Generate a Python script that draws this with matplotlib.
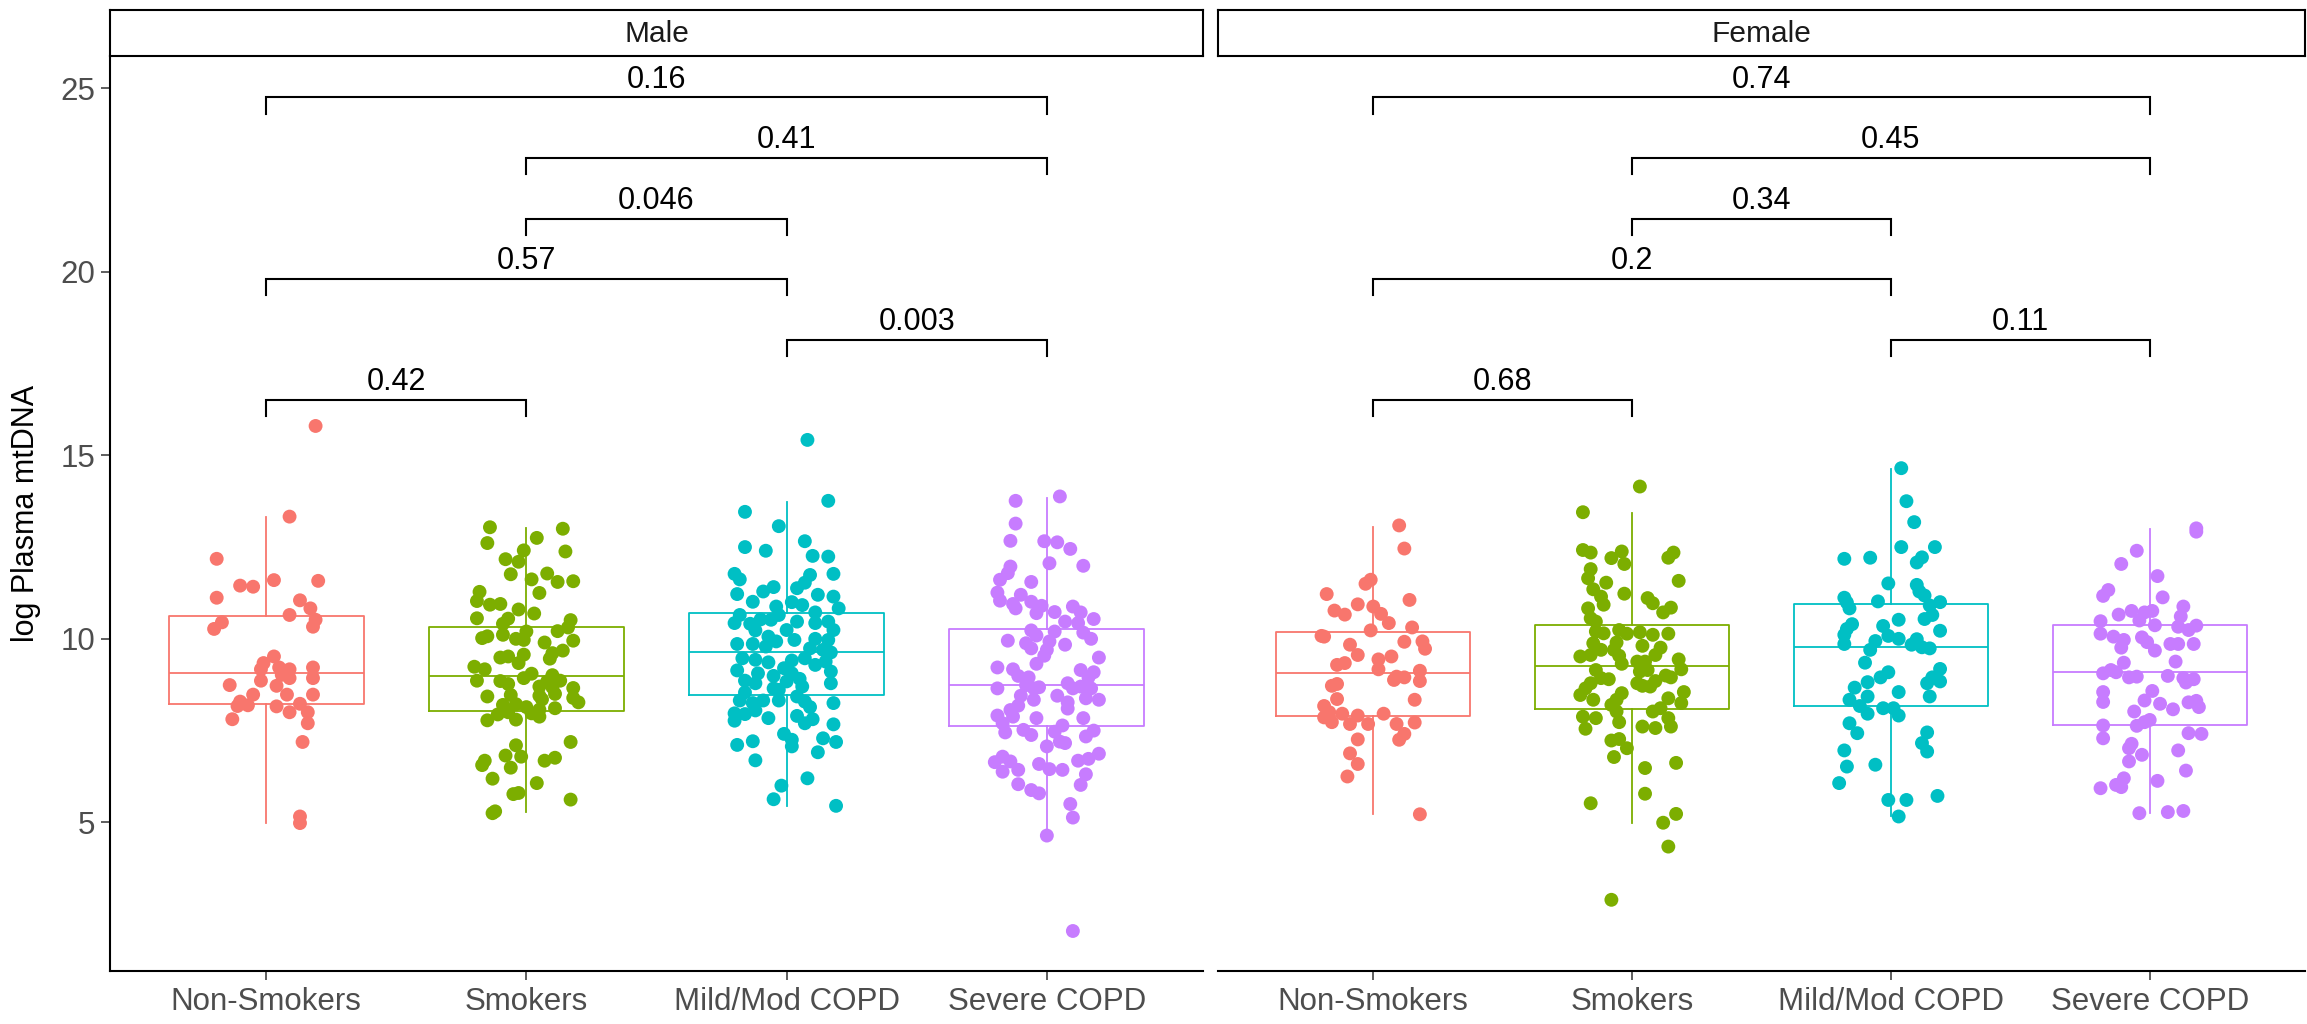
import matplotlib
matplotlib.use("Agg")
import matplotlib.pyplot as plt

plt.rcParams['font.family'] = ['Liberation Sans', 'DejaVu Sans']

# categories / facets
groups = ["Non-Smokers", "Smokers", "Mild/Mod COPD", "Severe COPD"]
sexes = ["Male", "Female"]
colors = ["#F8766D", "#7CAE00", "#00BFC4", "#C77CFF"]

# ---- Male: jittered points (offset from category, log plasma mtDNA) ----
m_ns_jit = [0.19, 0.09, -0.19, -0.10, -0.05, 0.03, 0.20, -0.19, 0.13, 0.17,
            0.09, 0.19, 0.18, -0.17, -0.20, 0.03, -0.01, -0.02, 0.05, 0.09,
            0.18, 0.06, 0.09, -0.02, 0.18, -0.14, 0.04, -0.05, 0.08, 0.18,
            -0.10, -0.07, -0.11, 0.04, 0.13, 0.09, 0.16, -0.13, 0.16, 0.14,
            0.13, 0.13]
m_ns_val = [15.80, 13.33, 12.18, 11.45, 11.42, 11.60, 11.58, 11.12, 11.05, 10.83,
            10.65, 10.52, 10.33, 10.45, 10.27, 9.52, 9.34, 9.17, 9.22, 9.17,
            9.22, 9.02, 8.93, 8.86, 8.93, 8.74, 8.72, 8.48, 8.48, 8.48,
            8.29, 8.19, 8.17, 8.16, 8.23, 8.00, 8.00, 7.81, 7.70, 7.19,
            5.16, 4.98]

m_s_jit = [-0.14, 0.14, -0.15, 0.04, -0.01, 0.15, -0.08, -0.03, -0.06, 0.02,
           0.08, 0.12, 0.18, -0.18, 0.05, -0.19, -0.14, -0.10, -0.03, 0.03,
           -0.19, -0.07, -0.09, 0.17, 0.16, 0.12, 0.00, -0.09, -0.15, -0.17,
           -0.04, -0.01, 0.18, 0.07, 0.14, 0.10, -0.10, -0.07, -0.01, 0.09,
           -0.03, -0.20, -0.16, 0.02, -0.01, 0.10, -0.19, -0.10, -0.07, 0.08,
           0.13, 0.05, 0.10, 0.18, -0.15, -0.06, 0.05, 0.11, 0.18, 0.20,
           0.06, -0.04, -0.09, 0.11, 0.00, 0.05, -0.11, -0.07, 0.02, 0.05,
           -0.15, -0.04, 0.17, -0.04, -0.08, -0.02, -0.16, -0.17, -0.06, 0.07,
           0.11, -0.13, 0.04, -0.05, -0.03, 0.17, -0.13, -0.12]
m_s_val = [13.04, 13.00, 12.61, 12.75, 12.41, 12.38, 12.17, 12.10, 11.76, 11.62,
           11.78, 11.55, 11.57, 11.28, 11.25, 11.03, 10.93, 10.95, 10.80, 10.69,
           10.56, 10.55, 10.41, 10.51, 10.31, 10.21, 10.20, 10.11, 10.07, 10.02,
           10.00, 9.97, 9.95, 9.90, 9.68, 9.61, 9.49, 9.52, 9.57, 9.46,
           9.34, 9.24, 9.17, 9.05, 8.93, 9.01, 8.86, 8.85, 8.77, 8.84,
           8.86, 8.70, 8.68, 8.66, 8.43, 8.47, 8.45, 8.50, 8.39, 8.27,
           8.35, 8.22, 8.20, 8.11, 8.14, 8.07, 7.94, 8.00, 7.97, 7.88,
           7.78, 7.80, 7.19, 7.10, 6.82, 6.79, 6.68, 6.56, 6.49, 6.68,
           6.76, 6.19, 6.07, 5.77, 5.80, 5.62, 5.25, 5.30]

m_mm_jit = [0.08, 0.16, -0.16, -0.03, -0.16, -0.08, 0.07, 0.10, 0.16, -0.20,
            -0.18, 0.09, 0.18, 0.07, 0.04, -0.05, -0.09, -0.19, 0.12, 0.18,
            -0.13, 0.02, 0.06, -0.04, 0.20, 0.11, -0.03, -0.18, -0.20, -0.06,
            -0.10, -0.14, 0.04, 0.16, -0.12, 0.00, 0.11, 0.18, -0.07, -0.04,
            0.03, 0.11, 0.16, -0.19, -0.13, -0.08, 0.09, 0.14, 0.17, -0.17,
            -0.12, -0.07, 0.02, 0.07, 0.11, 0.15, -0.19, -0.11, -0.01, 0.02,
            0.17, -0.05, -0.16, -0.12, 0.05, 0.00, 0.17, 0.06, -0.05, -0.03,
            -0.16, -0.18, -0.13, -0.09, -0.03, 0.04, 0.07, 0.18, -0.12, 0.09,
            -0.20, -0.16, -0.07, 0.04, -0.20, 0.10, 0.07, 0.18, -0.01, 0.02,
            0.02, -0.13, -0.19, 0.14, 0.19, 0.12, -0.12, 0.08, -0.02, -0.05, 0.19]
m_mm_val = [15.42, 13.76, 13.46, 13.07, 12.50, 12.40, 12.66, 12.26, 12.24, 11.77,
            11.62, 11.74, 11.77, 11.53, 11.38, 11.41, 11.29, 11.22, 11.20, 11.15,
            11.01, 11.00, 10.92, 10.88, 10.83, 10.72, 10.65, 10.65, 10.43, 10.52,
            10.53, 10.41, 10.47, 10.47, 10.23, 10.24, 10.43, 10.24, 10.06, 9.93,
            9.97, 10.00, 9.97, 9.86, 9.86, 9.79, 9.74, 9.70, 9.63, 9.47,
            9.43, 9.36, 9.41, 9.47, 9.29, 9.38, 9.14, 9.06, 9.20, 9.06,
            9.11, 8.99, 8.86, 8.79, 8.91, 8.84, 8.79, 8.70, 8.65, 8.61,
            8.54, 8.32, 8.25, 8.32, 8.32, 8.43, 8.29, 8.25, 8.05, 8.14,
            7.97, 7.95, 7.84, 7.90, 7.77, 7.81, 7.70, 7.67, 7.41, 7.25,
            7.07, 7.21, 7.11, 7.29, 7.19, 6.91, 6.69, 6.20, 6.00, 5.63, 5.45]

m_sv_jit = [0.05, -0.12, -0.12, -0.14, -0.01, 0.04, 0.09, 0.01, 0.14, -0.14,
            -0.15, -0.18, -0.06, -0.19, -0.10, -0.18, -0.06, -0.13, -0.12, -0.02,
            0.10, -0.04, 0.03, 0.13, 0.18, 0.07, 0.12, -0.06, 0.03, 0.14,
            -0.04, 0.17, -0.15, 0.01, -0.08, 0.07, -0.06, 0.00, -0.01, 0.20,
            -0.04, -0.19, -0.13, 0.13, 0.18, -0.11, -0.07, 0.16, 0.08, -0.19,
            -0.08, -0.03, -0.05, 0.10, 0.13, 0.17, 0.04, -0.10, 0.15, 0.20,
            -0.05, 0.08, -0.11, 0.08, -0.14, -0.19, -0.13, -0.04, 0.14, -0.17,
            0.06, -0.16, -0.09, -0.06, 0.03, 0.18, 0.15, 0.05, 0.07, 0.00,
            0.20, -0.17, -0.20, -0.14, -0.17, -0.11, -0.03, 0.01, 0.06, 0.12,
            0.16, 0.15, 0.13, -0.11, -0.06, -0.03, 0.09, 0.10, 0.00, 0.10]
m_sv_val = [13.88, 13.76, 13.14, 12.67, 12.66, 12.63, 12.45, 12.06, 11.99, 11.97,
            11.79, 11.61, 11.55, 11.26, 11.20, 11.04, 11.01, 10.95, 10.83, 10.90,
            10.88, 10.70, 10.73, 10.72, 10.54, 10.47, 10.43, 10.23, 10.20, 10.17,
            10.09, 10.00, 9.95, 9.93, 9.88, 9.84, 9.74, 9.70, 9.54, 9.49,
            9.32, 9.22, 9.17, 9.15, 9.09, 8.99, 8.95, 8.95, 8.79, 8.65,
            8.74, 8.68, 8.65, 8.65, 8.70, 8.65, 8.45, 8.45, 8.38, 8.34,
            8.34, 8.27, 8.18, 8.10, 8.06, 7.91, 7.88, 7.84, 7.84, 7.70,
            7.64, 7.45, 7.52, 7.38, 7.47, 7.50, 7.34, 7.20, 7.16, 7.07,
            6.87, 6.79, 6.64, 6.66, 6.38, 6.43, 6.59, 6.45, 6.43, 6.68,
            6.73, 6.31, 6.02, 6.04, 5.88, 5.79, 5.50, 5.13, 4.64, 2.04]

# ---- Female ----
f_ns_jit = [0.10, 0.12, -0.01, -0.03, -0.18, 0.14, -0.06, -0.15, 0.00, -0.11,
            0.03, 0.06, -0.01, 0.15, -0.20, -0.19, 0.12, 0.19, -0.09, 0.20,
            -0.06, 0.07, 0.02, -0.14, -0.11, 0.02, 0.18, 0.09, 0.12, 0.08,
            0.18, -0.14, -0.16, -0.14, 0.16, -0.19, -0.17, -0.12, -0.06, 0.04,
            -0.19, -0.16, -0.09, -0.02, 0.09, 0.16, 0.12, 0.10, -0.06, -0.09,
            -0.06, -0.10, 0.18]
f_ns_val = [13.09, 12.46, 11.61, 11.50, 11.22, 11.06, 10.94, 10.77, 10.88, 10.66,
            10.68, 10.43, 10.23, 10.31, 10.08, 10.06, 9.92, 9.93, 9.84, 9.73,
            9.56, 9.52, 9.44, 9.29, 9.34, 9.17, 9.13, 8.97, 8.95, 8.88,
            8.85, 8.77, 8.72, 8.36, 8.34, 8.17, 8.00, 7.96, 7.91, 7.96,
            7.86, 7.73, 7.68, 7.68, 7.68, 7.72, 7.41, 7.25, 7.26, 6.88,
            6.59, 6.25, 5.22]

f_s_jit = [0.03, -0.19, -0.19, -0.16, -0.04, -0.08, -0.03, 0.16, 0.14, -0.16,
           -0.17, -0.10, 0.18, -0.15, -0.03, -0.12, 0.06, -0.11, 0.08, 0.15,
           -0.17, 0.12, -0.16, -0.14, -0.14, -0.11, -0.05, -0.02, 0.03, 0.08,
           0.14, -0.06, -0.15, 0.04, -0.12, 0.11, -0.07, -0.20, -0.16, -0.05,
           0.09, 0.18, 0.02, 0.05, -0.04, 0.19, -0.14, 0.03, 0.06, -0.12,
           -0.09, 0.13, 0.15, -0.16, 0.02, 0.09, -0.18, 0.04, 0.07, -0.20,
           -0.04, 0.20, -0.15, -0.06, 0.14, -0.08, 0.19, 0.11, 0.08, -0.19,
           -0.14, -0.06, -0.05, 0.14, 0.04, 0.09, 0.15, -0.18, -0.08, -0.05,
           -0.02, -0.07, 0.17, 0.05, 0.05, -0.16, 0.17, 0.12, 0.14, -0.08]
f_s_val = [14.15, 13.45, 12.42, 12.35, 12.38, 12.20, 12.04, 12.35, 12.21, 11.90,
           11.65, 11.53, 11.58, 11.35, 11.23, 11.15, 11.11, 10.93, 10.97, 10.85,
           10.83, 10.72, 10.56, 10.47, 10.20, 10.15, 10.24, 10.14, 10.18, 10.11,
           10.14, 9.90, 9.88, 9.81, 9.70, 9.76, 9.70, 9.52, 9.56, 9.54,
           9.56, 9.44, 9.38, 9.38, 9.32, 9.17, 9.15, 9.11, 9.15, 8.93,
           8.90, 9.00, 8.95, 8.79, 8.79, 8.85, 8.65, 8.72, 8.70, 8.47,
           8.52, 8.55, 8.34, 8.34, 8.38, 8.20, 8.25, 8.11, 8.02, 7.88,
           7.84, 8.02, 7.73, 7.84, 7.61, 7.57, 7.61, 7.55, 7.23, 7.27,
           7.02, 6.78, 6.62, 6.48, 5.78, 5.52, 5.23, 4.99, 4.34, 2.89]

f_mm_jit = [0.04, 0.06, 0.09, 0.04, 0.17, -0.18, -0.08, 0.12, 0.10, -0.01,
            0.10, 0.11, 0.13, -0.18, -0.17, -0.05, 0.19, 0.15, -0.16, 0.16,
            0.13, 0.03, -0.15, -0.03, -0.17, 0.19, -0.18, -0.01, 0.03, -0.06,
            0.10, -0.18, 0.08, 0.12, 0.15, -0.08, -0.10, 0.19, -0.01, -0.04,
            0.16, 0.19, -0.09, 0.14, -0.14, 0.03, -0.09, 0.15, -0.16, -0.12,
            -0.03, 0.01, -0.09, 0.03, -0.16, -0.13, 0.14, 0.12, 0.14, -0.18,
            -0.17, -0.06, -0.20, -0.01, 0.06, 0.18, 0.03]
f_mm_val = [14.65, 13.75, 13.18, 12.50, 12.50, 12.18, 12.21, 12.22, 12.08, 11.51,
            11.47, 11.29, 11.18, 11.12, 10.99, 11.02, 11.00, 10.91, 10.83, 10.65,
            10.54, 10.52, 10.40, 10.35, 10.27, 10.22, 10.11, 10.08, 10.00, 9.94,
            9.99, 9.86, 9.84, 9.77, 9.74, 9.70, 9.35, 9.18, 9.09, 8.95,
            8.95, 8.84, 8.82, 8.79, 8.67, 8.55, 8.43, 8.43, 8.34, 8.17,
            8.11, 8.11, 7.96, 7.91, 7.70, 7.43, 7.45, 7.16, 6.93, 6.96,
            6.52, 6.57, 6.07, 5.61, 5.61, 5.72, 5.16]

f_sv_jit = [0.18, 0.18, -0.05, -0.11, 0.03, -0.16, -0.18, 0.05, 0.13, -0.12,
            -0.07, -0.02, 0.01, -0.04, 0.12, -0.19, 0.02, 0.11, 0.18, 0.15,
            -0.19, -0.14, -0.10, -0.03, -0.01, 0.08, 0.11, 0.17, -0.11, 0.02,
            0.10, -0.10, -0.15, -0.18, -0.13, -0.08, -0.05, 0.07, 0.13, 0.17,
            0.14, -0.18, 0.01, -0.18, -0.02, 0.04, 0.15, 0.18, 0.19, 0.09,
            -0.06, 0.00, -0.02, -0.05, -0.18, 0.15, 0.20, -0.18, -0.07, -0.08,
            -0.03, 0.11, -0.08, 0.14, -0.10, -0.13, -0.11, -0.19, 0.03, -0.04,
            0.07, 0.13]
f_sv_val = [13.01, 12.92, 12.40, 12.04, 11.71, 11.33, 11.17, 11.13, 10.88, 10.66,
            10.76, 10.72, 10.76, 10.50, 10.61, 10.48, 10.37, 10.33, 10.36, 10.24,
            10.14, 10.06, 9.97, 10.04, 9.91, 9.86, 9.86, 9.86, 9.76, 9.68,
            9.38, 9.35, 9.15, 9.06, 9.09, 8.95, 8.97, 8.99, 8.93, 8.90,
            8.81, 8.55, 8.58, 8.28, 8.32, 8.23, 8.27, 8.31, 8.14, 8.08,
            8.02, 7.79, 7.73, 7.63, 7.64, 7.43, 7.41, 7.29, 7.14, 7.02,
            6.84, 6.96, 6.66, 6.41, 6.20, 6.02, 5.96, 5.93, 6.13, 5.25,
            5.28, 5.31]

# box summaries (per group, in order of `groups`)
male_q1 = [8.23, 8.03, 8.46, 7.63]
male_med = [9.06, 9.00, 9.63, 8.73]
male_q3 = [10.62, 10.33, 10.70, 10.27]
male_lo = [4.98, 5.27, 5.45, 4.64]
male_hi = [13.31, 13.01, 13.74, 13.85]

female_q1 = [7.91, 8.08, 8.18, 7.64]
female_med = [9.08, 9.26, 9.77, 9.09]
female_q3 = [10.19, 10.38, 10.95, 10.37]
female_lo = [5.23, 4.99, 5.16, 5.25]
female_hi = [13.06, 13.42, 14.62, 12.99]

# pairwise comparisons (group index pairs), bracket heights and p-values
comparisons = [(1, 4), (2, 4), (2, 3), (1, 3), (3, 4), (1, 2)]
bracket_y = [24.75, 23.10, 21.45, 19.80, 18.15, 16.50]
male_p = ["0.16", "0.41", "0.046", "0.57", "0.003", "0.42"]
female_p = ["0.74", "0.45", "0.34", "0.2", "0.11", "0.68"]

points = {
    "Male": [(m_ns_jit, m_ns_val), (m_s_jit, m_s_val), (m_mm_jit, m_mm_val), (m_sv_jit, m_sv_val)],
    "Female": [(f_ns_jit, f_ns_val), (f_s_jit, f_s_val), (f_mm_jit, f_mm_val), (f_sv_jit, f_sv_val)],
}
boxes = {
    "Male": (male_q1, male_med, male_q3, male_lo, male_hi),
    "Female": (female_q1, female_med, female_q3, female_lo, female_hi),
}
pvals = {"Male": male_p, "Female": female_p}

W, H = 2307, 1024
fig = plt.figure(figsize=(W / 100, H / 100), dpi=100)


def frame(x0, y0, x1, y1):
    # pixel box -> figure fraction
    return [x0 / W, 1 - y1 / H, (x1 - x0) / W, (y1 - y0) / H]


panel_x = [(110, 1203), (1218, 2305)]
tick_grey = "#4D4D4D"

for k, sex in enumerate(sexes):
    x0, x1 = panel_x[k]
    ax = fig.add_axes(frame(x0, 56, x1, 971))
    q1, med, q3, lo, hi = boxes[sex]
    stats = []
    for i in range(len(groups)):
        stats.append({"med": med[i], "q1": q1[i], "q3": q3[i],
                      "whislo": lo[i], "whishi": hi[i], "fliers": []})
    pos = list(range(1, len(groups) + 1))
    bp = ax.bxp(stats, positions=pos, widths=0.75, showcaps=False,
                showfliers=False, manage_ticks=False)
    for i, c in enumerate(colors):
        bp["boxes"][i].set_color(c)
        bp["boxes"][i].set_linewidth(1.3)
        bp["medians"][i].set_color(c)
        bp["medians"][i].set_linewidth(1.3)
        for w in bp["whiskers"][2 * i:2 * i + 2]:
            w.set_color(c)
            w.set_linewidth(1.3)

    for i, (jit, val) in enumerate(points[sex]):
        xs = [pos[i] + j for j in jit]
        ax.scatter(xs, val, s=100, color=colors[i], edgecolors="none", zorder=3)

    # significance brackets
    tip = 0.44
    for (a, b), yb, p in zip(comparisons, bracket_y, pvals[sex]):
        ax.plot([a, a, b, b], [yb - tip, yb, yb, yb - tip], color="black",
                lw=1.5, solid_joinstyle="miter", zorder=4)
        ax.text((a + b) / 2, yb + 0.27, p, ha="center", va="baseline",
                fontsize=22, color="black")

    ax.set_xlim(0.4, 4.6)
    ax.set_ylim(0.95, 25.88)
    ax.set_xticks(pos)
    ax.set_xticklabels(groups, fontsize=22.5, color=tick_grey)
    ax.tick_params(axis="x", length=6.5, width=1.1, color="#333333", pad=5)
    for s in ["top", "right"]:
        ax.spines[s].set_visible(False)
    ax.spines["bottom"].set_linewidth(1.5)
    if k == 0:
        ax.set_yticks([5, 10, 15, 20, 25])
        ax.tick_params(axis="y", length=6.5, width=1.1, color="#333333", pad=4,
                       labelsize=22.5, labelcolor=tick_grey)
        ax.spines["left"].set_linewidth(1.5)
    else:
        ax.spines["left"].set_visible(False)
        ax.tick_params(axis="y", left=False, labelleft=False)

    # facet strip
    st = fig.add_axes(frame(x0, 10, x1, 56))
    st.set_xticks([])
    st.set_yticks([])
    for s in st.spines.values():
        s.set_linewidth(1.5)
        s.set_color("black")
    st.text(0.5, 0.47, sex, ha="center", va="center", fontsize=21.5,
            color="#1A1A1A", transform=st.transAxes)

fig.text(26 / W, 1 - 513 / H, "log Plasma mtDNA", rotation=90, ha="center",
         va="center", fontsize=22)

fig.savefig("out.png", dpi=100)
